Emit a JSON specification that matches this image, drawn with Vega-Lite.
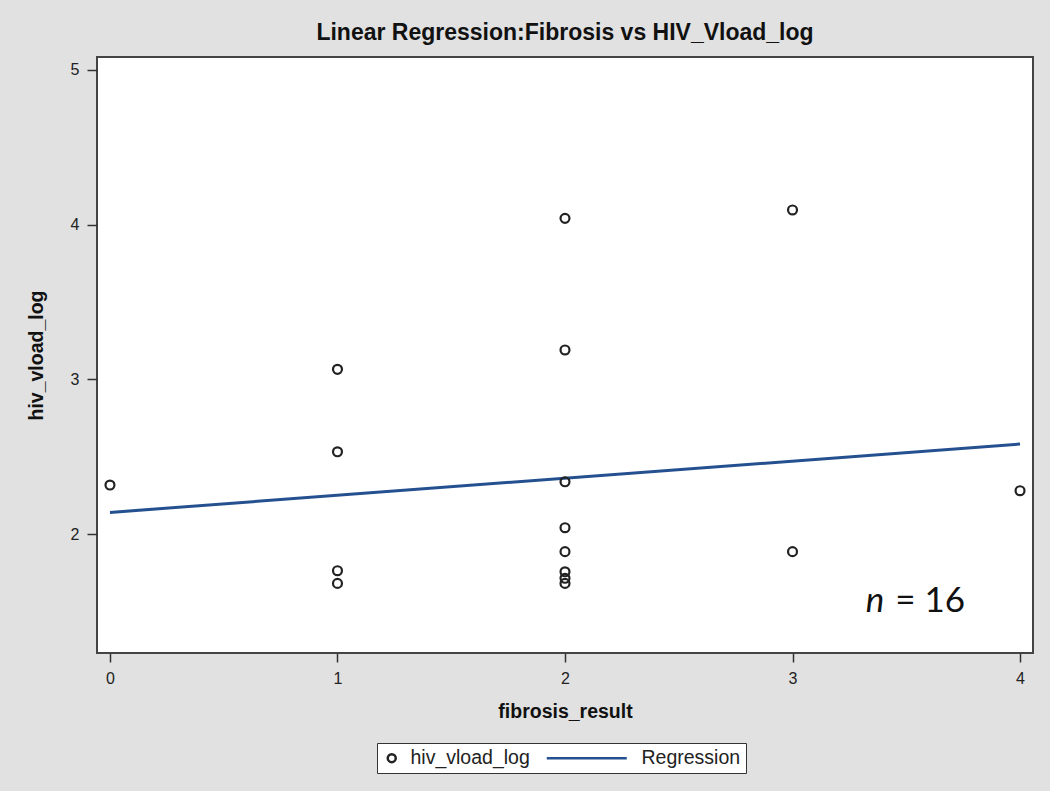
{
  "$schema": "https://vega.github.io/schema/vega-lite/v6.json",
  "width": 936,
  "height": 596,
  "autosize": {"type": "none"},
  "padding": {"left": 97, "top": 57, "right": 17, "bottom": 138},
  "background": "#e1e1e1",
  "title": {
    "text": "Linear Regression:Fibrosis vs HIV_Vload_log",
    "font": "Liberation Sans",
    "fontSize": 23,
    "fontWeight": "bold",
    "color": "#111111",
    "anchor": "middle",
    "frame": "group",
    "offset": 12
  },
  "config": {
    "view": {"fill": "white", "stroke": "#444444", "strokeWidth": 2},
    "axis": {
      "grid": false,
      "domain": false,
      "tickColor": "#333333",
      "tickWidth": 1.5,
      "labelFont": "Liberation Sans",
      "labelColor": "#222222",
      "labelFontSize": 16,
      "titleFont": "Liberation Sans",
      "titleFontWeight": "bold",
      "titleFontSize": 19.5,
      "titleColor": "#111111"
    },
    "legend": {
      "labelFont": "Liberation Sans",
      "labelFontSize": 19.5,
      "labelColor": "#222222"
    }
  },
  "datasets": {
    "points": [
      {"fibrosis_result": 0, "hiv_vload_log": 2.317, "series": "hiv_vload_log"},
      {"fibrosis_result": 1, "hiv_vload_log": 3.065, "series": "hiv_vload_log"},
      {"fibrosis_result": 1, "hiv_vload_log": 2.532, "series": "hiv_vload_log"},
      {"fibrosis_result": 1, "hiv_vload_log": 1.763, "series": "hiv_vload_log"},
      {"fibrosis_result": 1, "hiv_vload_log": 1.681, "series": "hiv_vload_log"},
      {"fibrosis_result": 2, "hiv_vload_log": 4.041, "series": "hiv_vload_log"},
      {"fibrosis_result": 2, "hiv_vload_log": 3.19, "series": "hiv_vload_log"},
      {"fibrosis_result": 2, "hiv_vload_log": 2.338, "series": "hiv_vload_log"},
      {"fibrosis_result": 2, "hiv_vload_log": 2.041, "series": "hiv_vload_log"},
      {"fibrosis_result": 2, "hiv_vload_log": 1.886, "series": "hiv_vload_log"},
      {"fibrosis_result": 2, "hiv_vload_log": 1.756, "series": "hiv_vload_log"},
      {"fibrosis_result": 2, "hiv_vload_log": 1.714, "series": "hiv_vload_log"},
      {"fibrosis_result": 2, "hiv_vload_log": 1.681, "series": "hiv_vload_log"},
      {"fibrosis_result": 3, "hiv_vload_log": 4.095, "series": "hiv_vload_log"},
      {"fibrosis_result": 3, "hiv_vload_log": 1.886, "series": "hiv_vload_log"},
      {"fibrosis_result": 4, "hiv_vload_log": 2.28, "series": "hiv_vload_log"}
    ],
    "regression": [
      {"fibrosis_result": 0, "hiv_vload_log": 2.14, "series": "Regression"},
      {"fibrosis_result": 4, "hiv_vload_log": 2.582, "series": "Regression"}
    ],
    "note": [
      {"part1": "n", "part2": "= 16"}
    ]
  },
  "layer": [
    {
      "data": {"name": "regression"},
      "mark": {"type": "line", "strokeWidth": 3},
      "encoding": {
        "x": {"field": "fibrosis_result", "type": "quantitative"},
        "y": {"field": "hiv_vload_log", "type": "quantitative"},
        "color": {"field": "series", "type": "nominal"}
      }
    },
    {
      "data": {"name": "points"},
      "mark": {"type": "point", "filled": false, "strokeWidth": 2.2, "opacity": 1, "size": 80},
      "encoding": {
        "x": {
          "field": "fibrosis_result",
          "type": "quantitative",
          "scale": {"domain": [-0.057, 4.057], "nice": false, "zero": false},
          "axis": {"values": [0, 1, 2, 3, 4], "format": "d", "tickSize": 9, "labelPadding": 8, "title": "fibrosis_result", "titlePadding": 16}
        },
        "y": {
          "field": "hiv_vload_log",
          "type": "quantitative",
          "scale": {"domain": [1.231, 5.084], "nice": false, "zero": false},
          "axis": {"values": [2, 3, 4, 5], "format": "d", "tickSize": 10, "labelPadding": 8, "title": "hiv_vload_log", "titlePadding": 24}
        },
        "color": {
          "field": "series",
          "type": "nominal",
          "scale": {"domain": ["hiv_vload_log", "Regression"], "range": ["#222222", "#24508f"]},
          "legend": {
            "title": null,
            "orient": "none",
            "direction": "horizontal",
            "legendX": 280,
            "legendY": 686,
            "padding": 5,
            "strokeColor": "#333333",
            "fillColor": "white",
            "symbolSize": 64,
            "symbolStrokeWidth": 2.5,
            "columnPadding": 11,
            "labelOffset": 9
          }
        },
        "shape": {
          "field": "series",
          "type": "nominal",
          "scale": {"domain": ["hiv_vload_log", "Regression"], "range": ["circle", "M -19 0 L 1 0"]}
        }
      }
    },
    {
      "data": {"name": "note"},
      "mark": {"type": "text", "font": "Lato", "fontSize": 35, "fontStyle": "italic", "align": "left", "baseline": "alphabetic", "color": "#111111"},
      "encoding": {
        "x": {"datum": 3.322, "type": "quantitative"},
        "y": {"datum": 1.496, "type": "quantitative"},
        "text": {"field": "part1"}
      }
    },
    {
      "data": {"name": "note"},
      "mark": {"type": "text", "font": "Lato", "fontSize": 35, "align": "left", "baseline": "alphabetic", "color": "#111111"},
      "encoding": {
        "x": {"datum": 3.451, "type": "quantitative"},
        "y": {"datum": 1.496, "type": "quantitative"},
        "text": {"field": "part2"}
      }
    }
  ]
}
